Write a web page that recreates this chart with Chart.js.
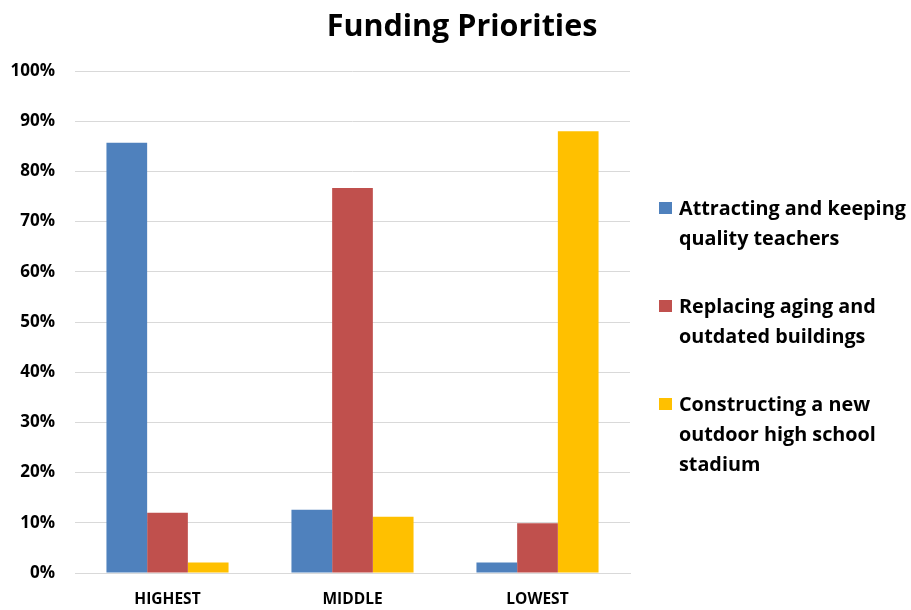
<!DOCTYPE html>
<html>
<head>
<meta charset="utf-8">
<script src="https://cdn.jsdelivr.net/npm/chart.js@4/dist/chart.umd.min.js"></script>
<style>
  html, body { margin: 0; padding: 0; background: #fff; }
  #wrap { position: relative; width: 911px; height: 610px; }
  #title {
    position: absolute; left: 0; width: 924px; top: 3px;
    text-align: center; font: bold 30.5px "Open Sans", sans-serif; color: #000;
  }
  #legend { position: absolute; left: 659px; top: 193px; font: bold 19.8px "Open Sans", sans-serif; color: #000; }
  .item { position: relative; padding-left: 20px; line-height: 30px; margin-bottom: 38px; white-space: nowrap; }
  .box { position: absolute; left: 0; top: 9px; width: 13px; height: 12px; }
</style>
</head>
<body>
<div id="wrap">
  <canvas id="chart" width="911" height="610"></canvas>
  <div id="title">Funding Priorities</div>
  <div id="legend"></div>
</div>
<script>
const categories = ['HIGHEST', 'MIDDLE', 'LOWEST'];
const seriesNames = [
    ['Attracting and keeping', 'quality teachers'],
    ['Replacing aging and', 'outdated buildings'],
    ['Constructing a new', 'outdoor high school', 'stadium']
];
const teachers = [85.7, 12.6, 2.1];
const buildings = [12.0, 76.7, 9.9];
const stadium = [2.1, 11.2, 88.0];
const colors = ['#4F81BD', '#C0504D', '#FFC000'];

const values = [teachers, buildings, stadium];

const ctx = document.getElementById('chart').getContext('2d');
new Chart(ctx, {
    type: 'bar',
    data: {
        labels: categories,
        datasets: values.map((v, i) => ({
            label: seriesNames[i].join(' '),
            data: v,
            backgroundColor: colors[i],
            borderWidth: 0,
            categoryPercentage: 0.66,
            barPercentage: 1.0
        }))
    },
    options: {
        responsive: false,
        animation: false,
        layout: { padding: { left: 9, right: 281, top: 71, bottom: 0 } },
        plugins: {
            legend: { display: false },
            title: { display: false },
            tooltip: { enabled: false }
        },
        scales: {
            x: {
                grid: { display: false, drawTicks: false },
                border: { color: '#d9d9d9', width: 1 },
                ticks: { color: '#000', font: { family: 'Open Sans', size: 15.5, weight: 'bold' }, padding: 17 },
                afterFit: s => { s.height = 37; }
            },
            y: {
                min: 0,
                max: 100,
                grid: { color: '#d9d9d9', drawTicks: false },
                border: { display: false },
                ticks: {
                    stepSize: 10,
                    color: '#000',
                    padding: 20,
                    font: { family: 'Open Sans', size: 17, weight: 'bold' },
                    callback: v => v + '%'
                },
                afterFit: s => { s.width = 66; }
            }
        }
    }
});

// legend with wrapped labels
const legend = document.getElementById('legend');
seriesNames.forEach((lines, i) => {
    const item = document.createElement('div');
    item.className = 'item';
    const box = document.createElement('span');
    box.className = 'box';
    box.style.background = colors[i];
    item.appendChild(box);
    lines.forEach((t, j) => {
        if (j) item.appendChild(document.createElement('br'));
        item.appendChild(document.createTextNode(t));
    });
    legend.appendChild(item);
});
</script>
</body>
</html>
